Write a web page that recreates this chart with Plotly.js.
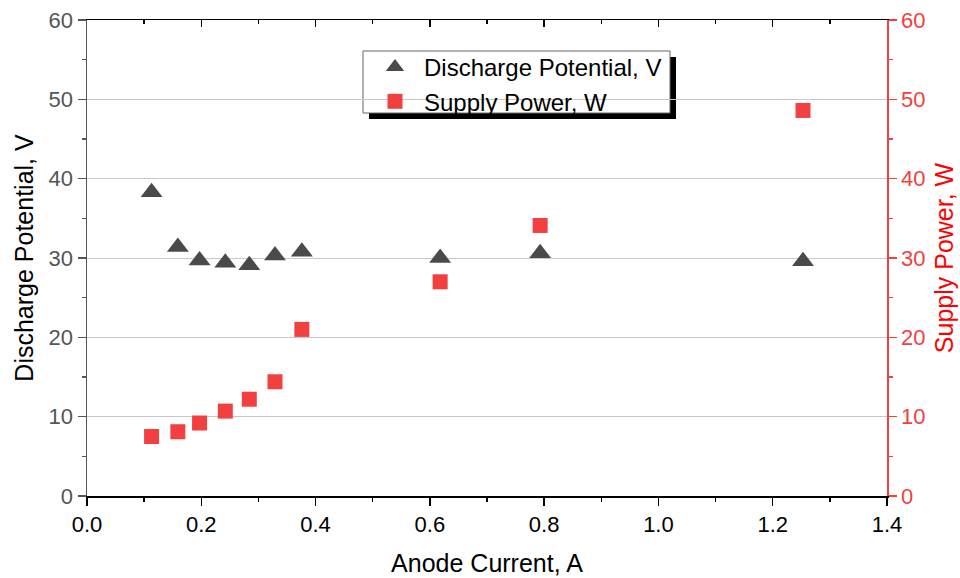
<!DOCTYPE html>
<html>
<head>
<meta charset="utf-8">
<script src="https://cdn.plot.ly/plotly-3.0.1.min.js"></script>
<style>html,body{margin:0;padding:0;background:#fff;}#chart{width:960px;height:578px;}</style>
</head>
<body>
<div id="chart"></div>
<script>
const anodeCurrent = [0.113, 0.159, 0.197, 0.242, 0.284, 0.329, 0.376, 0.618, 0.793, 1.253];
const dischargePotential = [38.3, 31.4, 29.7, 29.4, 29.1, 30.3, 30.8, 30.0, 30.6, 29.6];
const supplyPower = [7.5, 8.1, 9.2, 10.7, 12.2, 14.4, 21.0, 27.0, 34.1, 48.6];
const xTicks = [0.0, 0.2, 0.4, 0.6, 0.8, 1.0, 1.2, 1.4];
const xTickLabels = ['0.0', '0.2', '0.4', '0.6', '0.8', '1.0', '1.2', '1.4'];
const yTicks = [0, 10, 20, 30, 40, 50, 60];

const FONT = 'Liberation Sans, Arial, sans-serif';
const RED = '#f23f3f';
const GREY = '#555555';

const traces = [
  {
    x: anodeCurrent, y: dischargePotential, type: 'scatter', mode: 'markers',
    name: 'Discharge Potential, V',
    marker: {symbol: 'triangle-up', size: 19, color: '#4a4a4a', line: {width: 0}},
    xaxis: 'x', yaxis: 'y'
  },
  {
    x: anodeCurrent, y: supplyPower, type: 'scatter', mode: 'markers',
    name: 'Supply Power, W',
    marker: {symbol: 'square', size: 15, color: RED, line: {width: 0}},
    xaxis: 'x', yaxis: 'y2'
  },
  {
    x: [0], y: [0], type: 'scatter', mode: 'markers', showlegend: false, hoverinfo: 'skip',
    marker: {opacity: 0}, xaxis: 'x2', yaxis: 'y'
  }
];

// legend box in paper coords (plot area: x 87..887, y 20..496)
function px(x) { return (x - 87) / 800; }
function py(y) { return (496 - y) / 476; }

const layout = {
  width: 960, height: 578,
  margin: {l: 87, r: 73, t: 20, b: 82},
  paper_bgcolor: '#fff', plot_bgcolor: '#fff',
  font: {family: FONT, size: 22, color: '#000'},
  showlegend: true,
  legend: {
    x: px(366), y: py(45), xanchor: 'left', yanchor: 'top',
    bgcolor: 'rgba(0,0,0,0)', borderwidth: 0,
    font: {family: FONT, size: 24, color: '#000'},
    itemwidth: 48, tracegroupgap: 0
  },
  xaxis: {
    range: [0, 1.4], tickvals: xTicks, ticktext: xTickLabels,
    ticks: 'outside', ticklen: 8, tickwidth: 1.5, tickcolor: '#000',
    minor: {dtick: 0.1, ticks: 'outside', ticklen: 4, tickwidth: 1.5, tickcolor: '#000', showgrid: false},
    showline: true, linecolor: '#000', linewidth: 1.5,
    showgrid: false, zeroline: false,
    tickfont: {family: FONT, size: 22, color: '#000'},
    title: {text: 'Anode Current, A', font: {family: FONT, size: 25, color: '#000'}, standoff: 18}
  },
  xaxis2: {
    range: [0, 1.4], overlaying: 'x', side: 'top', anchor: 'y',
    tickvals: xTicks, showticklabels: false,
    ticks: 'inside', ticklen: 7, tickwidth: 1.5, tickcolor: '#000',
    minor: {dtick: 0.1, ticks: 'inside', ticklen: 4, tickwidth: 1.5, tickcolor: '#000', showgrid: false},
    showline: true, linecolor: '#000', linewidth: 1.5, showgrid: false, zeroline: false
  },
  yaxis: {
    range: [0, 60], tickvals: yTicks,
    ticks: 'outside', ticklen: 8, tickwidth: 1.5, tickcolor: GREY,
    minor: {dtick: 5, ticks: 'outside', ticklen: 4, tickwidth: 1.5, tickcolor: GREY, showgrid: false},
    showline: true, linecolor: GREY, linewidth: 1.5,
    showgrid: true, gridcolor: '#c8c8c8', gridwidth: 1, zeroline: false,
    tickfont: {family: FONT, size: 22, color: GREY},
    title: {text: 'Discharge Potential, V', font: {family: FONT, size: 25, color: '#000'}, standoff: 8}
  },
  yaxis2: {
    range: [0, 60], tickvals: yTicks, overlaying: 'y', side: 'right', anchor: 'x',
    ticks: 'outside', ticklen: 8, tickwidth: 1.5, tickcolor: RED,
    minor: {dtick: 5, ticks: 'outside', ticklen: 4, tickwidth: 1.5, tickcolor: RED, showgrid: false},
    showline: true, linecolor: RED, linewidth: 1.5,
    showgrid: false, zeroline: false,
    tickfont: {family: FONT, size: 22, color: RED},
    title: {text: 'Supply Power, W', font: {family: FONT, size: 25, color: '#ff0000'}, standoff: 11}
  },
  shapes: [
    {type: 'rect', xref: 'paper', yref: 'paper', x0: px(369), x1: px(676), y0: py(119), y1: py(57),
     fillcolor: '#000', line: {width: 0}, layer: 'between'},
    {type: 'rect', xref: 'paper', yref: 'paper', x0: px(363), x1: px(670), y0: py(113), y1: py(51),
     fillcolor: '#fff', line: {width: 1, color: '#666'}, layer: 'between'}
  ]
};

Plotly.newPlot('chart', traces, layout, {displayModeBar: false, staticPlot: true});
</script>
</body>
</html>
